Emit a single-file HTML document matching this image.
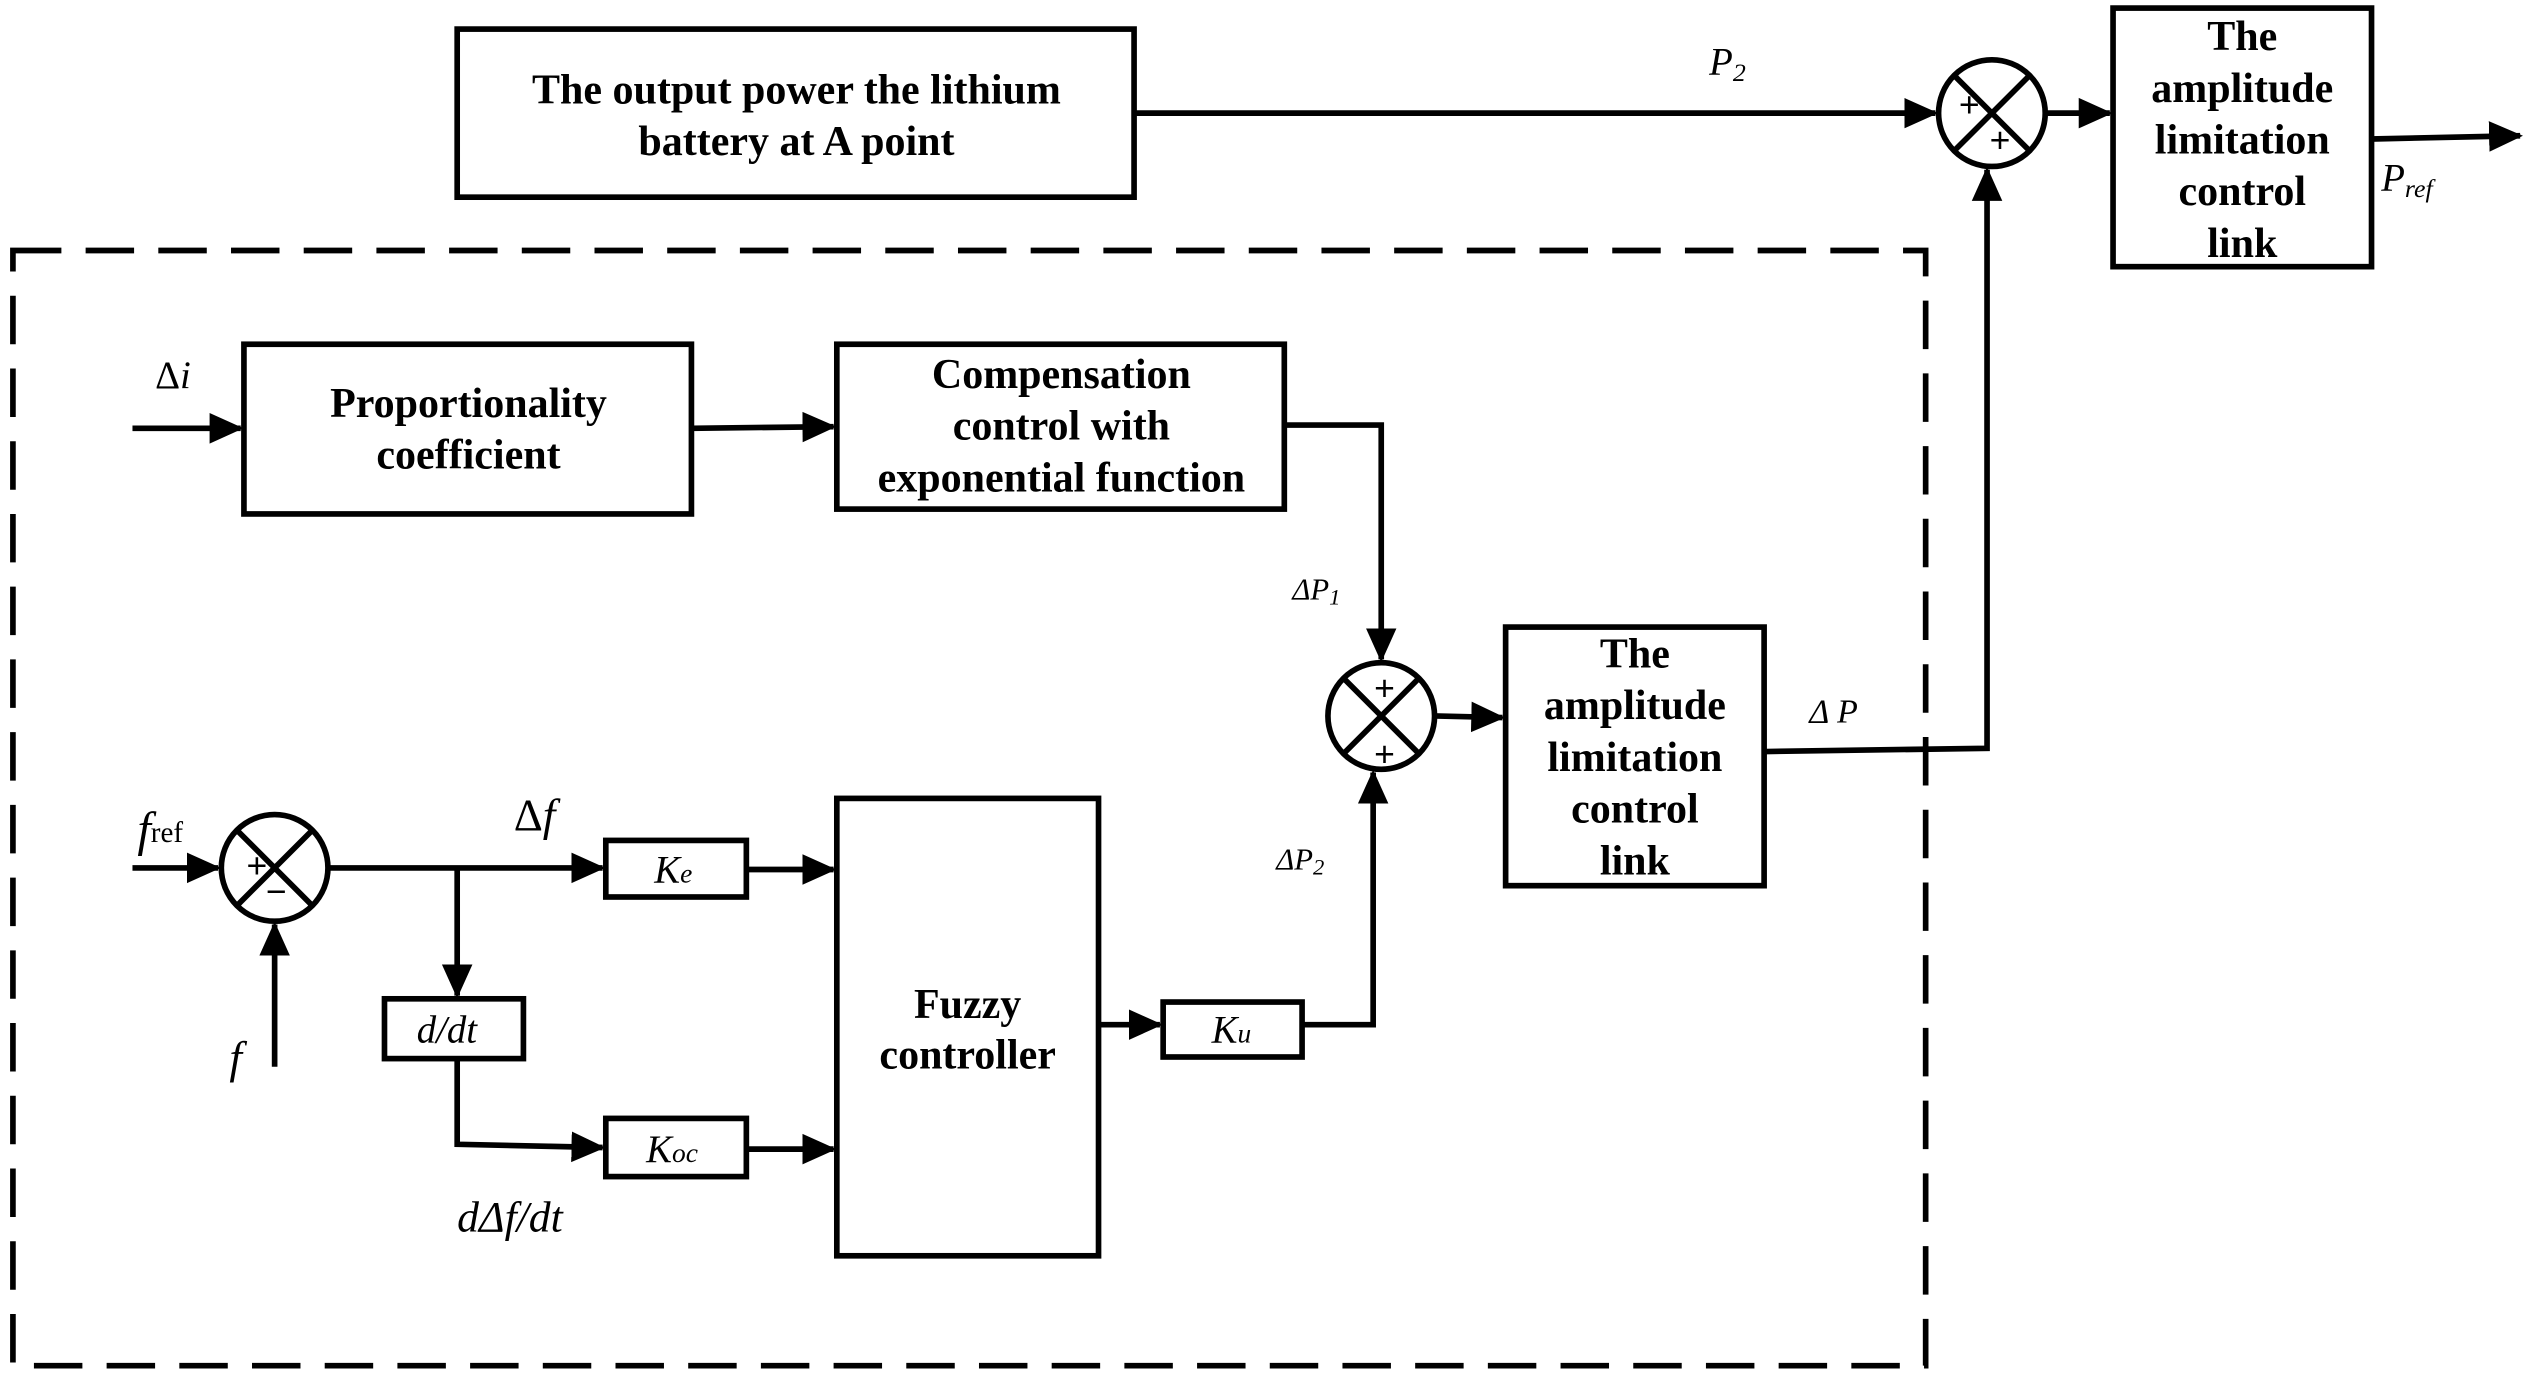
<!DOCTYPE html>
<html><head><meta charset="utf-8"><style>
html,body{margin:0;padding:0;background:#fff;}
svg{display:block;}
text{font-family:"Liberation Serif",serif;fill:#000;}
.b{font-weight:bold;font-size:26px;text-anchor:middle;}
.i{font-style:italic;font-size:24px;}
</style></head><body>
<svg width="2525" height="1377" viewBox="0 0 1563 852" preserveAspectRatio="none" xmlns="http://www.w3.org/2000/svg">
<defs><marker id="a" markerWidth="6" markerHeight="6" refX="5.5" refY="3" orient="auto" markerUnits="strokeWidth"><path d="M0,0.3 L6,3 L0,5.7z" fill="#000"/></marker></defs>
<g fill="none" stroke="#000" stroke-width="3.5">
<rect x="283" y="18" width="419" height="104"/>
<rect x="1308" y="5" width="160" height="160"/>
<rect x="151" y="213" width="277" height="105"/>
<rect x="518" y="213" width="277" height="102"/>
<rect x="932" y="388" width="160" height="160"/>
<rect x="375" y="520" width="87" height="35"/>
<rect x="238" y="618" width="86" height="37"/>
<rect x="375" y="692" width="87" height="36"/>
<rect x="518" y="494" width="162" height="283"/>
<rect x="720" y="620" width="86" height="34"/>
<rect x="8" y="155" width="1184" height="690" stroke-dasharray="30,15"/>
<circle cx="1233" cy="70" r="33"/>
<path d="M1210,47 L1256,93 M1256,47 L1210,93"/>
<circle cx="855" cy="443" r="33"/>
<path d="M832,420 L878,466 M878,420 L832,466"/>
<circle cx="170" cy="537" r="33"/>
<path d="M147,514 L193,560 M193,514 L147,560"/>
<g marker-end="url(#a)">
<path d="M702,70 L1198,70"/>
<path d="M1266,70 L1306,70"/>
<path d="M1468,86 L1560,84"/>
<path d="M1093,465 L1230,463 L1230,105"/>
<path d="M82,265 L149,265"/>
<path d="M428,265 L516,264"/>
<path d="M795,263 L855,263 L855,408"/>
<path d="M888,443 L930,444"/>
<path d="M82,537 L135,537"/>
<path d="M170,660 L170,572"/>
<path d="M204,537 L373,537"/>
<path d="M283,537 L283,616"/>
<path d="M462,538 L516,538"/>
<path d="M283,655 L283,708 L373,710"/>
<path d="M462,711 L516,711"/>
<path d="M680,634 L718,634"/>
<path d="M806,634 L850,634 L850,478"/>
</g>
</g>
<g font-size="22" font-family="Liberation Sans,sans-serif" text-anchor="middle">
<text x="1219" y="72" style="font-family:'Liberation Sans',sans-serif">+</text>
<text x="1238" y="94" style="font-family:'Liberation Sans',sans-serif">+</text>
<text x="857" y="433" style="font-family:'Liberation Sans',sans-serif">+</text>
<text x="857" y="474" style="font-family:'Liberation Sans',sans-serif">+</text>
<text x="159" y="543" style="font-family:'Liberation Sans',sans-serif">+</text>
<text x="171" y="559" style="font-family:'Liberation Sans',sans-serif">−</text>
</g>
<text class="b" x="493" y="64">The output power the lithium</text>
<text class="b" x="493" y="96">battery at A point</text>
<text class="b" x="1388" y="31">The</text>
<text class="b" x="1388" y="63">amplitude</text>
<text class="b" x="1388" y="95">limitation</text>
<text class="b" x="1388" y="127">control</text>
<text class="b" x="1388" y="159">link</text>
<text class="b" x="290" y="258">Proportionality</text>
<text class="b" x="290" y="290">coefficient</text>
<text class="b" x="657" y="240">Compensation</text>
<text class="b" x="657" y="272">control with</text>
<text class="b" x="657" y="304">exponential function</text>
<text class="b" x="1012" y="413">The</text>
<text class="b" x="1012" y="445">amplitude</text>
<text class="b" x="1012" y="477">limitation</text>
<text class="b" x="1012" y="509">control</text>
<text class="b" x="1012" y="541">link</text>
<text class="b" x="599" y="630">Fuzzy</text>
<text class="b" x="599" y="661">controller</text>
<text class="i" x="1058" y="46">P<tspan font-size="16" dy="4">2</tspan></text>
<text class="i" x="1474" y="118">P<tspan font-size="16" dy="4">ref</tspan></text>
<text class="i" x="96" y="240" style="font-style:normal">Δ<tspan font-style="italic">i</tspan></text>
<text class="i" x="800" y="371" font-size="19" style="font-size:19px">ΔP<tspan font-size="14" dy="3">1</tspan></text>
<text class="i" x="790" y="538" style="font-size:19px">ΔP<tspan font-size="14" dy="3">2</tspan></text>
<text class="i" x="1120" y="447" style="font-size:21px">Δ P</text>
<text class="i" x="85" y="523" style="font-size:30px">f<tspan font-size="18" font-style="normal" dy="-2">ref</tspan></text>
<text class="i" x="142" y="664" style="font-size:28px">f</text>
<text class="i" x="318" y="514" style="font-size:28px"><tspan font-style="normal">Δ</tspan>f</text>
<text class="i" x="405" y="546">K<tspan font-size="17">e</tspan></text>
<text class="i" x="258" y="645">d/dt</text>
<text class="i" x="400" y="719">K<tspan font-size="17">oc</tspan></text>
<text class="i" x="750" y="645">K<tspan font-size="17">u</tspan></text>
<text class="i" x="283" y="762" style="font-size:27px">dΔf/dt</text>
</svg>
</body></html>
